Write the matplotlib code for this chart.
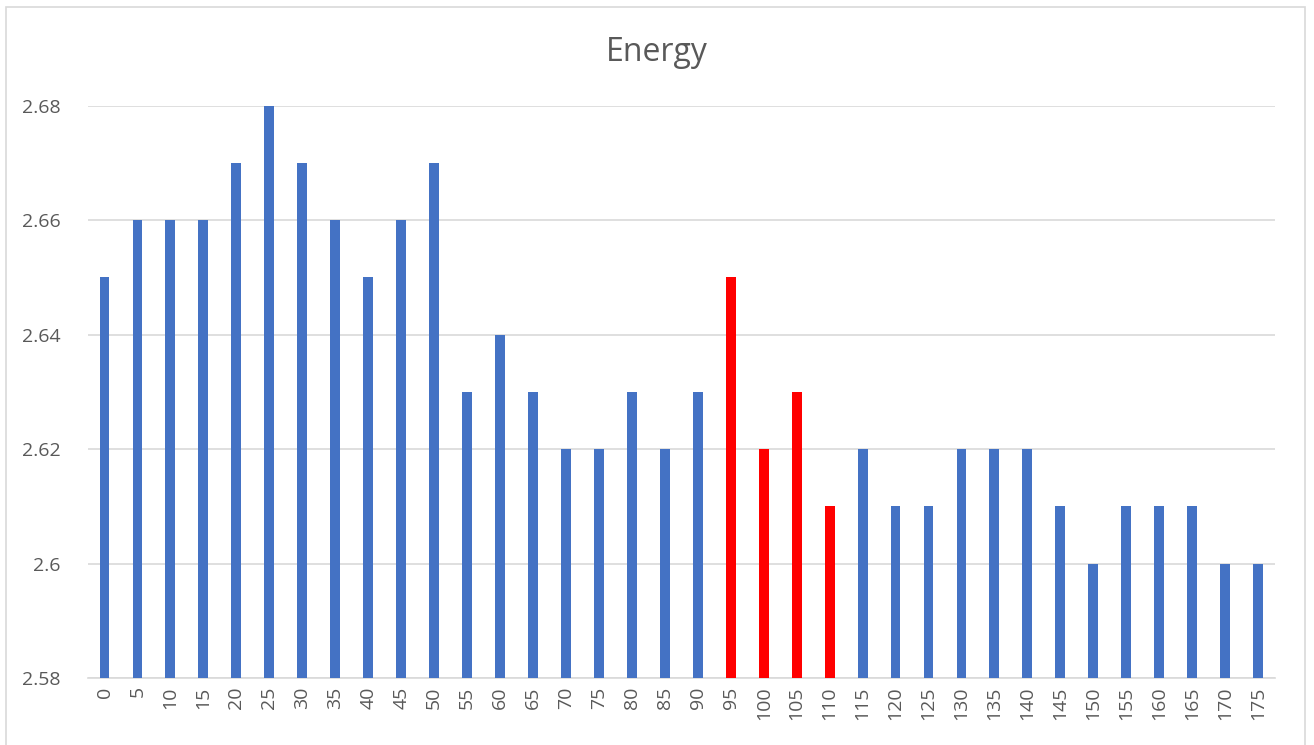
import matplotlib.pyplot as plt
from matplotlib.patches import Rectangle

plt.rcParams["font.family"] = ["Open Sans", "DejaVu Sans"]

angles = list(range(0, 180, 5))
energy = [2.65, 2.66, 2.66, 2.66, 2.67, 2.68, 2.67, 2.66, 2.65, 2.66,
          2.67, 2.63, 2.64, 2.63, 2.62, 2.62, 2.63, 2.62, 2.63, 2.65,
          2.62, 2.63, 2.61, 2.62, 2.61, 2.61, 2.62, 2.62, 2.62, 2.61,
          2.60, 2.61, 2.61, 2.61, 2.60, 2.60]
highlight = [95, 100, 105, 110]
y_ticks = [2.58, 2.6, 2.62, 2.64, 2.66, 2.68]

BLUE = "#4472C4"
RED = "#FF0000"
TEXT = "#595959"
GRID = "#D9D9D9"

fig = plt.figure(figsize=(13.14, 7.45), dpi=100)
ax = fig.add_axes([0.067, 0.090, 0.903, 0.768])

colors = [RED if a in highlight else BLUE for a in angles]
x = range(len(angles))
ax.bar(x, [e - 2.58 for e in energy], bottom=2.58, width=0.3, color=colors, zorder=3)

ax.set_xlim(-0.5, len(angles) - 0.5)
ax.set_ylim(2.58, 2.68)
ax.set_yticks(y_ticks)
ax.set_yticklabels([f"{v:g}" for v in y_ticks])
ax.set_xticks(list(x))
ax.set_xticklabels([str(a) for a in angles], rotation=90)
ax.tick_params(axis="both", length=0, colors=TEXT, labelsize=14)
ax.tick_params(axis="y", pad=20)
ax.tick_params(axis="x", pad=6)
ax.grid(axis="y", color=GRID, linewidth=1.2, zorder=0)
for side in ["top", "right", "left"]:
    ax.spines[side].set_visible(False)
ax.spines["bottom"].set_color(GRID)
ax.spines["bottom"].set_linewidth(1.2)

fig.text(0.4995, 0.93, "Energy", ha="center", va="center", fontsize=23, color=TEXT)

# chart-area border
fig.patches.append(Rectangle((6 / 1314, -0.05), 1299 / 1314, 1.05 - 7 / 745,
                             transform=fig.transFigure, fill=False,
                             edgecolor="#D9D9D9", linewidth=1.2))

fig.savefig("out.png", dpi=100)
